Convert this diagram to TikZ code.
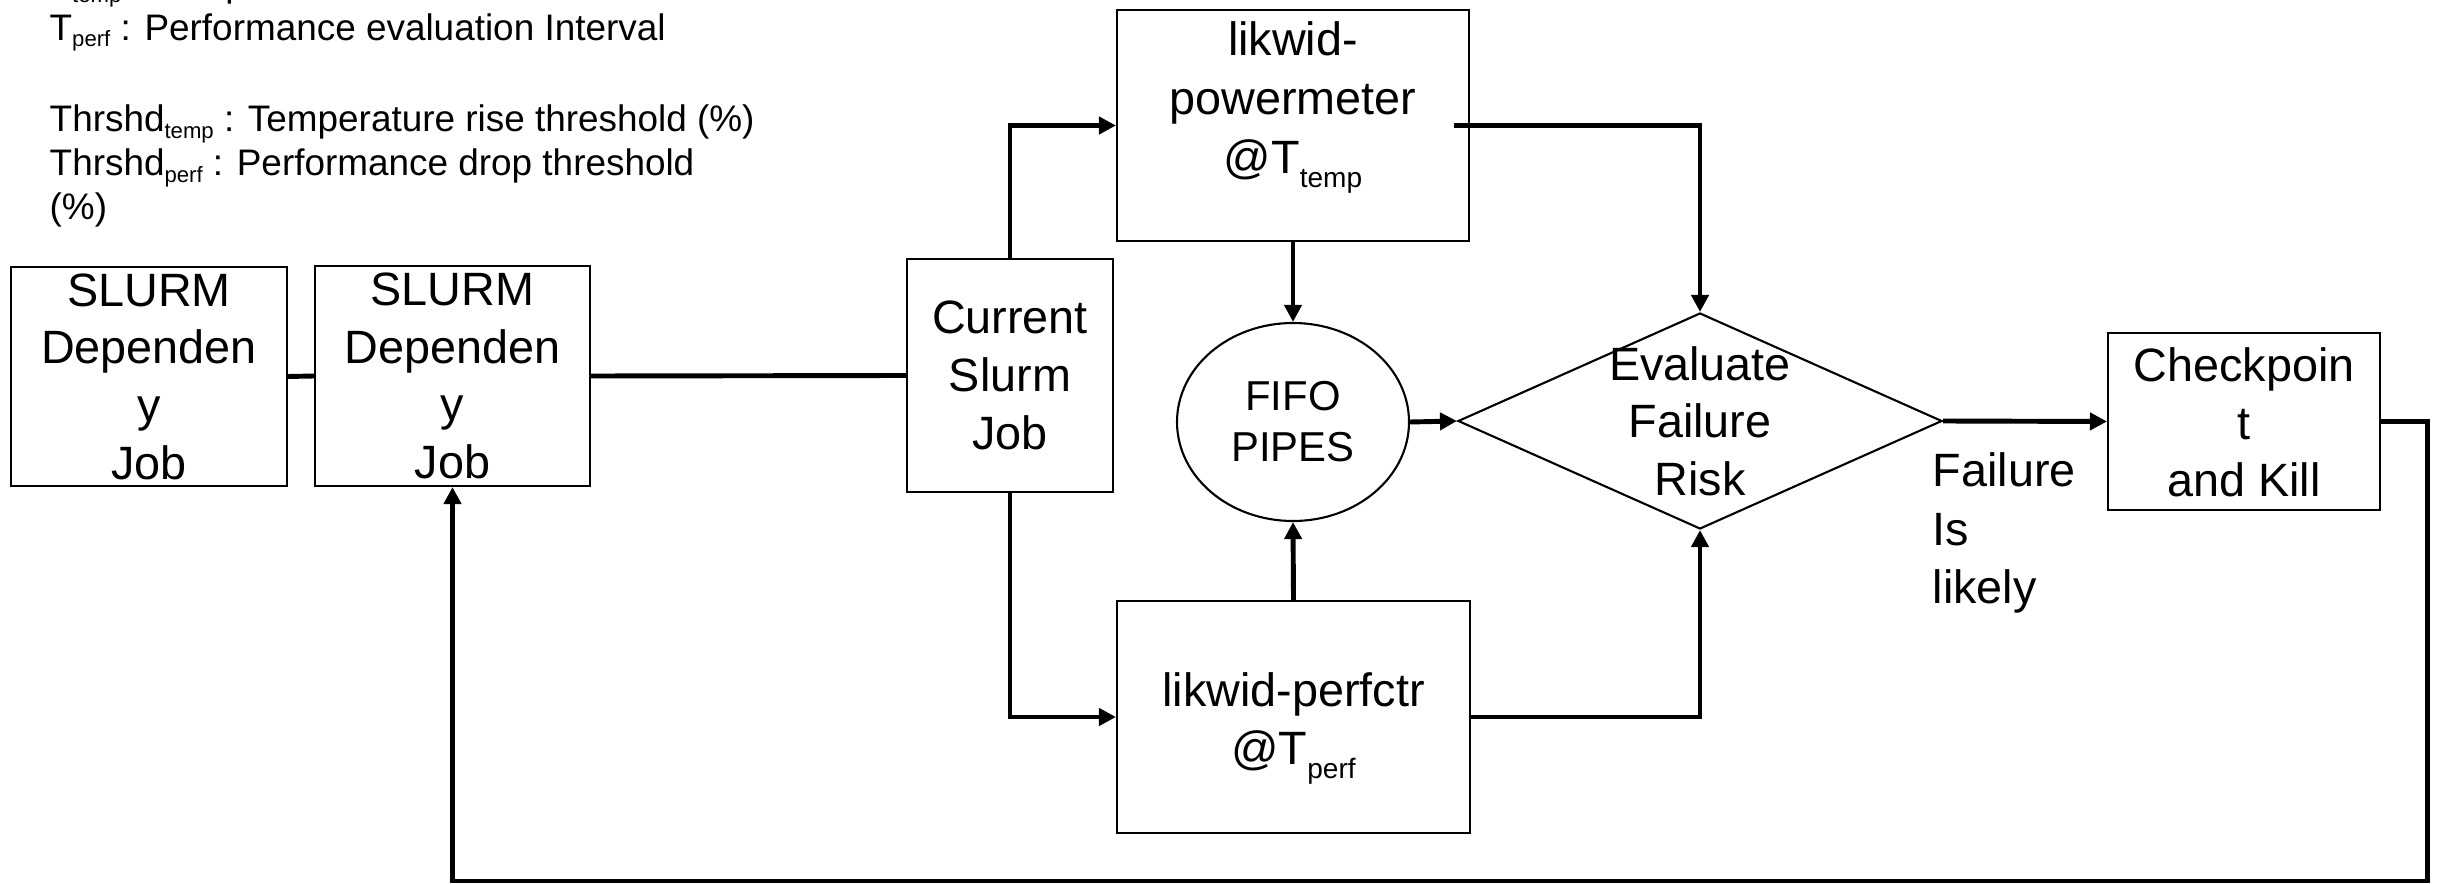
\documentclass[tikz,border=0pt]{standalone}
\usepackage{fontspec}
\setmainfont{Liberation Sans}
\usepackage{graphicx}
\usepackage{tikz}
\usetikzlibrary{shapes.geometric, arrows.meta, positioning}
\newcommand{\subtxt}[2][0.3em]{\raisebox{-#1}{\scalebox{0.6}{#2}}}
\tikzset{
  % Boxes and shapes
  jobbox/.style={rectangle, draw=black, line width=0.6pt, inner sep=0pt, align=center, font=\fontsize{13.3}{16.4}\selectfont},
  boxtext/.style={inner sep=0pt, align=center, font=\fontsize{13.3}{16.4}\selectfont},
  pipe/.style={ellipse, draw=black, line width=0.6pt, inner sep=0pt, align=center, font=\fontsize{11.9}{14.5}\selectfont},
  decision/.style={diamond, draw=black, line width=0.6pt, inner sep=0pt},
  legend/.style={inner sep=0pt, align=left, font=\fontsize{10.5}{12.5}\selectfont},
  % Connectors
  link/.style={line width=1.4pt},
  arrow/.style={-{Triangle[length=1.7mm, width=1.7mm]}, line width=1.4pt},
}

\begin{document}
\begin{tikzpicture}
    \useasboundingbox (0,0) rectangle (24.4,-8.84);

    % Legend
    \node[legend, anchor=north west] (legend) at (0.49,0.295) {
      T\subtxt[0.17em]{temp} : Temperature\\
      T\subtxt[0.17em]{perf} : Performance evaluation Interval\\[13.5pt]
      Thrshd\subtxt[0.17em]{temp} : Temperature rise threshold (\%)\\
      Thrshd\subtxt[0.17em]{perf} : Performance drop threshold\\
      (\%)
    };

    % Dependency jobs
    \node[jobbox, minimum width=27.6mm, minimum height=21.9mm] (dep1) at (1.49,-3.765) {SLURM\\Dependen\\y\\Job};
    \node[jobbox, minimum width=27.5mm, minimum height=22.0mm] (dep2) at (4.525,-3.76) {SLURM\\Dependen\\y\\Job};

    % Current job
    \node[jobbox, minimum width=20.6mm, minimum height=23.3mm] (cur) at (10.10,-3.755) {Current\\Slurm\\Job};

    % Monitors
    \node[jobbox, minimum width=35.2mm, minimum height=23.1mm] (pm) at (12.93,-1.255) {};
    \node[boxtext, below=1.2mm of pm.north, font=\fontsize{13.3}{16.8}\selectfont] (pmtext) {likwid-\\powermeter\\@T\subtxt{temp}};
    \node[jobbox, minimum width=35.3mm, minimum height=23.2mm] (pc) at (12.935,-7.17) {};
    \node[boxtext, below=7.2mm of pc.north] (pctext) {likwid-perfctr\\@T\subtxt{perf}};

    % FIFO pipes
    \node[pipe, minimum width=23.2mm, minimum height=19.8mm] (fifo) at (12.93,-4.22) {FIFO\\PIPES};

    % Decision
    \node[decision, minimum width=48.4mm, minimum height=21.6mm] (eval) at (17.00,-4.21) {};
    \node[boxtext] (evaltext) at (eval.center) {Evaluate\\Failure\\Risk};
    \node[boxtext, align=left, anchor=north west, font=\fontsize{13.3}{16.7}\selectfont] (likely) at (19.32,-4.52) {Failure\\Is\\likely};

    % Checkpoint
    \node[jobbox, minimum width=27.2mm, minimum height=17.7mm] (chk) at (22.44,-4.215) {};
    \node[boxtext, below=1.5mm of chk.north] (chktext) {Checkpoin\\t\\and Kill};

    % Arrows
    \draw[link] (dep1.east) -- (dep2.west);
    \draw[link] (dep2.east) -- (cur.west);
    \draw[arrow] (cur.north) |- (pm.west);
    \draw[arrow] (cur.south) |- (pc.west);
    \draw[arrow] (pm.south) -- (fifo.north);
    \draw[arrow] (pc.north) -- (fifo.south);
    \draw[arrow] (fifo.east) -- (eval.west);
    \draw[arrow] ([xshift=-1.6mm]pm.east) -| (eval.north);
    \draw[arrow] (pc.east) -| (eval.south);
    \draw[arrow] (eval.east) -- (chk.west);

    % Loop back
    \coordinate (loopbr) at (24.27,-8.81);
    \draw[arrow] (chk.east) -| (loopbr) -| (dep2.south);
\end{tikzpicture}
\end{document}
